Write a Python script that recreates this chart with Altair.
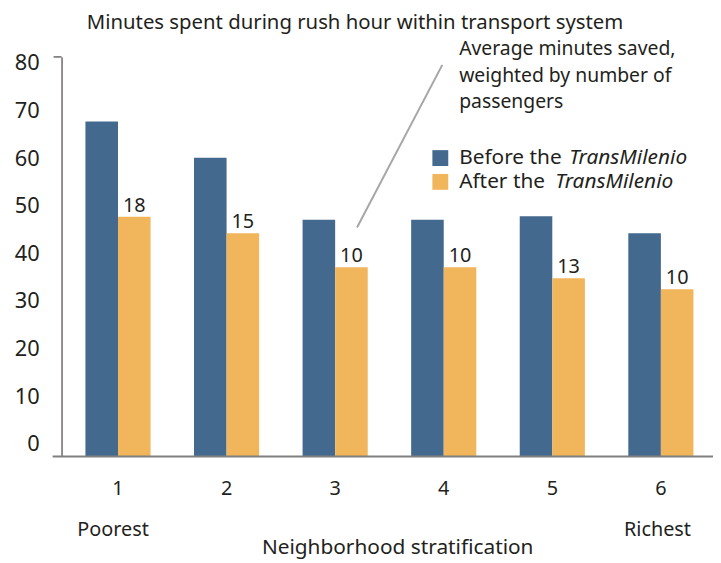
import altair as alt
import pandas as pd

# ---------------- data ----------------
categories = ["1", "2", "3", "4", "5", "6"]
before = [67.1, 59.8, 47.4, 47.4, 48.1, 44.7]
after = [48.0, 44.7, 37.9, 37.9, 35.7, 33.5]
saved = [18, 15, 10, 10, 13, 10]
y_ticks = [0, 10, 20, 30, 40, 50, 60, 70, 80]
series = ["Before", "After"]
colors = ["#44698F", "#F1B65B"]

title_text = "Minutes spent during rush hour within transport system"
note_lines = ["Average minutes saved,", "weighted by number of", "passengers"]
legend_plain = ["Before the", "After the"]
legend_italic = "TransMilenio"
x_title = "Neighborhood stratification"
end_labels = ["Poorest", "Richest"]

FONT = "Noto Sans"
TXT = "#231f20"
W, H = 657, 403

bars_df = pd.DataFrame({
    "cat": categories * 2,
    "series": ["Before"] * len(categories) + ["After"] * len(categories),
    "value": before + after,
})
labels_df = pd.DataFrame({"cat": categories, "series": "After", "value": after, "saved": saved})

x_enc = alt.X(
    "cat:N", sort=categories,
    scale=alt.Scale(paddingInner=0.4, paddingOuter=0.2, align=0.55),
    axis=alt.Axis(title=None, labelAngle=0, ticks=False, domain=False, labelFont=FONT,
                  labelFontSize=20, labelColor=TXT, labelPadding=22),
)
xoff = alt.XOffset("series:N", scale=alt.Scale(domain=series, paddingInner=0, paddingOuter=0))
yscale = alt.Scale(domain=[0, 80], nice=False, zero=True)

bars = alt.Chart(bars_df).mark_bar().encode(
    x=x_enc,
    xOffset=xoff,
    y=alt.Y("value:Q", scale=yscale,
            axis=alt.Axis(title=None, labels=False, ticks=False, grid=False, domain=True,
                          domainColor=TXT, domainWidth=1)),
    color=alt.Color("series:N", scale=alt.Scale(domain=series, range=colors), legend=None),
)

bar_labels = alt.Chart(labels_df).mark_text(
    baseline="alphabetic", dy=-5, font=FONT, fontSize=20, color=TXT
).encode(
    x=x_enc, xOffset=xoff,
    y=alt.Y("value:Q", scale=yscale, axis=None),
    text="saved:Q",
)

# y labels (drawn through their own linear scale)
ylab = alt.Chart(pd.DataFrame({"v": y_ticks})).mark_text(
    align="right", baseline="middle", font=FONT, fontSize=22, color=TXT
).encode(
    y=alt.Y("v:Q", scale=alt.Scale(domain=[-2.6, 81.36], nice=False, zero=False), axis=None),
    x=alt.value(-22),
    text="v:Q",
)

top_tick = alt.Chart(pd.DataFrame({"v": [80]})).mark_rule(color=TXT, strokeWidth=1).encode(
    y=alt.Y("v:Q", scale=yscale, axis=None), x=alt.value(-8), x2=alt.value(0)
)
baseline = alt.Chart(pd.DataFrame({"v": [0]})).mark_rule(color="#808080", strokeWidth=2).encode(
    y=alt.Y("v:Q", scale=yscale, axis=None), x=alt.value(-9), x2=alt.value(W)
)

def txt(text, x, y, align="left", size=20, style="normal", baseline_="alphabetic", **kw):
    return alt.Chart(pd.DataFrame({"t": [text]})).mark_text(
        align=align, baseline=baseline_, font=FONT, fontSize=size, fontStyle=style, color=TXT, **kw
    ).encode(x=alt.value(x), y=alt.value(y), text="t:N")

title = txt(title_text, 296, -28, align="center", size=20.5)
note = txt("\n".join(note_lines), 401, -2, size=19.5, lineBreak="\n", lineHeight=27)
leader = alt.Chart(pd.DataFrame({"v": [0]})).mark_rule(color="#a6a6a6", strokeWidth=2).encode(
    x=alt.value(384), y=alt.value(8), x2=alt.value(298), y2=alt.value(172)
)

sq1 = alt.Chart(pd.DataFrame({"v": [0]})).mark_rect(color=colors[0]).encode(
    x=alt.value(374), x2=alt.value(390), y=alt.value(94), y2=alt.value(110))
sq2 = alt.Chart(pd.DataFrame({"v": [0]})).mark_rect(color=colors[1]).encode(
    x=alt.value(374), x2=alt.value(390), y=alt.value(118), y2=alt.value(134))
lg1a = txt(legend_plain[0], 401, 108, size=21)
lg1b = txt(legend_italic, 512, 108, size=21, style="italic")
lg2a = txt(legend_plain[1], 401, 132, size=21)
lg2b = txt(legend_italic, 498, 132, size=21, style="italic")

poor = txt(end_labels[0], 52, 483, align="center")
rich = txt(end_labels[1], 601, 483, align="center")
xt = txt(x_title, 339, 501, align="center", size=21)

chart = alt.layer(
    bars, bar_labels, top_tick, baseline, ylab, title, note, leader,
    sq1, sq2, lg1a, lg1b, lg2a, lg2b, poor, rich, xt
).resolve_scale(y="independent").properties(
    width=W, height=H,
    autosize=alt.AutoSizeParams(type="none"),
    padding={"left": 54, "top": 47, "right": 0, "bottom": 104},
).configure_view(stroke=None)

chart.save("out.html", embed_options={"renderer": "svg", "actions": False})
